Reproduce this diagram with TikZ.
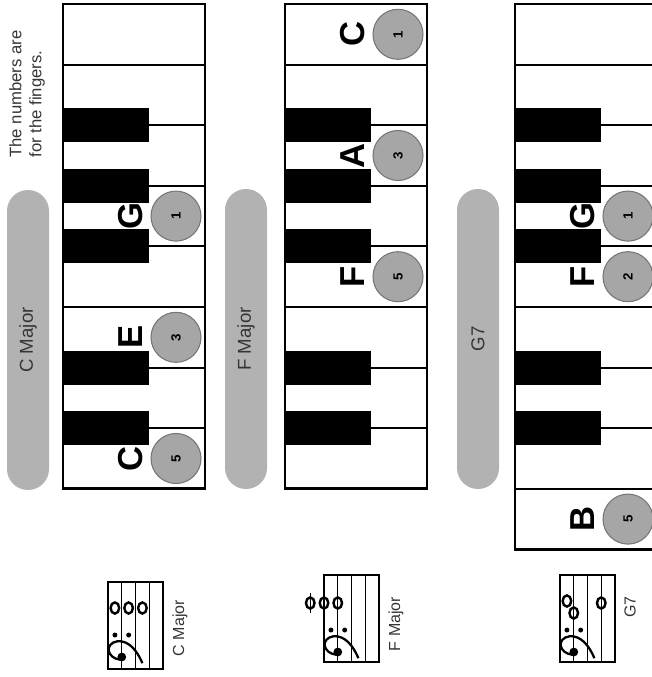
\documentclass[tikz,border=0pt]{standalone}
\usepackage{fontspec}
\setmainfont{Liberation Sans}
\definecolor{PillGray}{HTML}{B2B2B2}
\definecolor{DotGray}{HTML}{A6A6A6}
\definecolor{RimGray}{HTML}{767676}
\definecolor{InkGray}{HTML}{353535}
\begin{document}
\begin{tikzpicture}[x=0.75pt, y=-0.75pt,
        pill/.style={fill=PillGray, rounded corners=15.7pt, minimum width=225pt, minimum height=31.5pt,
                    inner sep=0pt, rotate=90, text=InkGray, font=\fontsize{14}{16}\selectfont},
        finger/.style={circle, fill=DotGray, draw=RimGray, line width=0.8pt, minimum size=37.5pt,
                    inner sep=0pt, rotate=90, font=\fontsize{10}{11}\selectfont\bfseries},
        keyname/.style={rotate=90, inner sep=0pt, font=\fontsize{26}{28}\selectfont\bfseries},
        chordname/.style={rotate=90, inner sep=0pt, text=InkGray, font=\fontsize{12}{14}\selectfont},
        whole/.style={line width=1.8pt}]
        \useasboundingbox (0,0) rectangle (652,677);
        \clip (0,0) rectangle (652,677);
        % keyboards
        \foreach \kx/\nk in {63/8, 285/8, 515/9}{
          \pgfmathtruncatemacro{\last}{\nk-1}
          \foreach \k in {1,...,\last} \draw[line width=1.6pt] (\kx,4+60.6*\k) -- (\kx+142,4+60.6*\k);
          \foreach \k in {2,3,4,6,7} \fill (\kx,4+60.6*\k-17) rectangle (\kx+86,4+60.6*\k+17);
          \draw[line width=2.2pt] (\kx,4) rectangle (\kx+142,4+60.6*\nk);
        }
        \node[pill] (cmaj) at (28,340)  {C Major};
        \node[pill] (fmaj) at (246,339) {F Major};
        \node[pill] (gsev) at (478,339) {G7};
        \node[rotate=90, align=left, inner sep=0pt, text=InkGray, font=\fontsize{12.5}{15}\selectfont] (hint) at (27,94) {The numbers are\\for the fingers.};
        \node[keyname] (cc) at (131,458.5) {C};
        \node[keyname] (ce) at (131,337.3) {E};
        \node[keyname] (cg) at (131,216.1) {G};
        \node[finger] (cc5) at (176,458.5) {5};
        \node[finger] (ce3) at (176,337.3) {3};
        \node[finger] (cg1) at (176,216.1) {1};
        \node[keyname] (ff) at (353,276.7) {F};
        \node[keyname] (fa) at (353,155.5) {A};
        \node[keyname] (fc) at (353,34.3)  {C};
        \node[finger] (ff5) at (398,276.7) {5};
        \node[finger] (fa3) at (398,155.5) {3};
        \node[finger] (fc1) at (398,34.3)  {1};
        \node[keyname] (gb) at (583,519.1) {B};
        \node[keyname] (gf) at (583,276.7) {F};
        \node[keyname] (gg) at (583,216.1) {G};
        \node[finger] (gb5) at (628,519.1) {5};
        \node[finger] (gf2) at (628,276.7) {2};
        \node[finger] (gg1) at (628,216.1) {1};
        % staves with bass clef
        \foreach \sx/\sy/\hy in {108/582/75, 324/575/77, 560/575/77}{
          \draw[line width=0.8pt] (\sx,\sy) rectangle (\sx+55,\sy+87);
          \foreach \v in {1,2,3} \draw[line width=0.8pt] (\sx+13.75*\v,\sy) -- (\sx+13.75*\v,\sy+87);
          \begin{scope}[shift={(\sx+55,\sy+\hy)}, x=10.3pt, y=10.3pt, rotate=90]
            \fill (0,3) circle (0.32);
            \draw[line width=1.7pt] (-0.2,3.1) .. controls (-0.1,4.1) and (1.0,4.3) .. (1.15,3.3)
                  .. controls (1.2,2.5) and (0.5,1.9) .. (-0.45,1.5);
            \fill (1.6,3.5) circle (0.18) (1.6,2.5) circle (0.18);
          \end{scope}
        }
        \foreach \nx/\ny in {114.9/608, 128.6/608, 142.4/608, 337.75/603, 324/603, 310.25/603, 601.25/603, 573.75/613, 566.9/601}
          \draw[whole] (\nx,\ny) ellipse [x radius=4.3, y radius=5.6];
        \draw[line width=0.8pt] (310.25,593) -- (310.25,613);
        \node[chordname] (clab) at (180,628) {C Major};
        \node[chordname] (flab) at (396,624) {F Major};
        \node[chordname] (glab) at (630,607) {G7};
      \end{tikzpicture}
\end{document}
